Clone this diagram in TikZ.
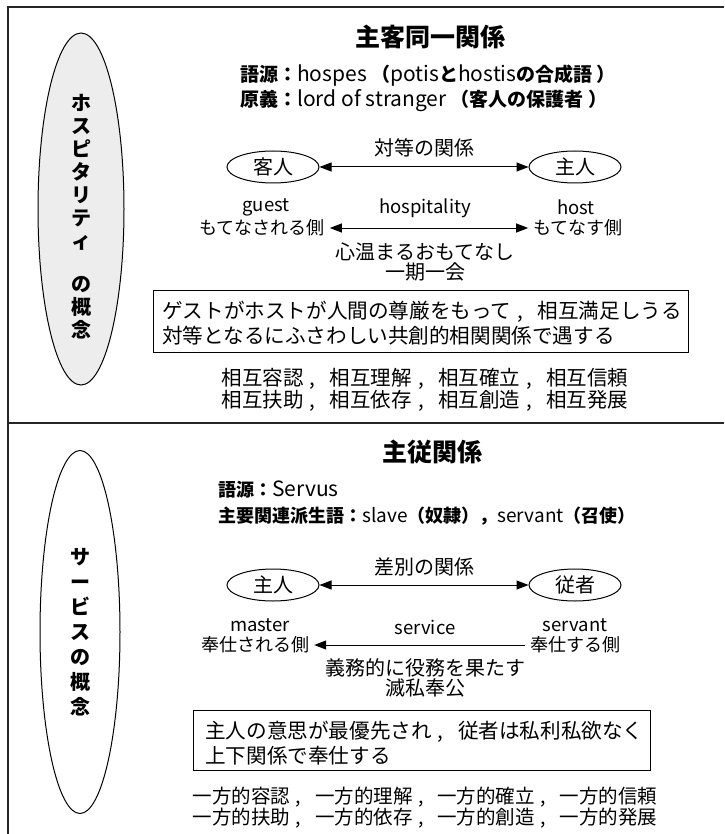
\documentclass[tikz,border=0pt]{standalone}
\usepackage{fontspec}
\setmainfont{Noto Sans CJK JP}
\usetikzlibrary{shapes.geometric,arrows.meta}
\newcommand\jcm{\hspace{0.3em},\hspace{0.7em}}
\newcommand\lt[1]{{\fontsize{21}{22}\selectfont\mdseries #1}}
\newcommand\ltb[1]{{\fontsize{19}{22}\selectfont\mdseries #1}}
\begin{document}
\begin{tikzpicture}[x=1pt,y=-1pt,
  frameline/.style={line width=2pt, draw=black!85},
  bigell/.style={ellipse, draw, line width=1pt, inner sep=0pt, minimum width=86pt},
  smallell/.style={ellipse, draw, line width=1pt, minimum width=92pt, minimum height=32pt, inner sep=0pt, font=\fontsize{20}{21}\selectfont},
  txt/.style={inner sep=0pt, font=\fontsize{20}{20.5}\selectfont, align=center},
  lab/.style={inner sep=0pt, font=\fontsize{18.5}{20}\selectfont, align=center},
  side/.style={inner ysep=0pt, inner xsep=5pt, font=\fontsize{18}{20}\selectfont},
  boxtxt/.style={inner sep=0pt, font=\fontsize{20.6}{24.5}\selectfont, align=left, anchor=west},
  hd/.style={inner sep=0pt, font=\fontsize{19}{20}\selectfont\bfseries, anchor=west},
  ttl/.style={inner sep=0pt, font=\fontsize{25}{26}\selectfont\bfseries},
  vtxt/.style={inner sep=0pt, align=center, font=\bfseries},
  tip/.tip={Triangle[length=12pt,width=9pt]},
  darr/.style={line width=1pt, tip-tip},
  sarr/.style={line width=1pt, tip-},
  framebox/.style={draw, line width=1pt, inner sep=0pt}
]
\useasboundingbox (0,0) rectangle (724,834);
\coordinate (tl) at (8,7);
\coordinate (tr) at (724,7);
\coordinate (bl) at (8,834);
\coordinate (ml) at (8,423);
\coordinate (mr) at (724,423);
\draw[frameline] (tr) -- (tl) -- (bl);
\draw[frameline] (ml) -- (mr);

% ---------- top section ----------
\node (e1) [bigell, minimum height=352pt, fill=black!7] at (81,209) {};
\node (v1) [vtxt, font=\fontsize{20}{23}\selectfont\bfseries] at (81,217) {ホ\\ス\\ピ\\タ\\リ\\テ\\ィ\\[20pt]の\\概\\念};

\node (t1) [ttl] at (430,37) {主客同一関係};
\node (h1) [hd] at (240,76) {語源：\lt{hospes} （\lt{potis}と\lt{hostis}の合成語 ）};
\node (h2) [hd] at (240,101) {原義：\lt{lord of stranger} （客人の保護者 ）};

\node (guestE) [smallell] at (273,167) {客人};
\node (hostE) [smallell] at (575,167) {主人};
\draw[darr] (guestE) -- (hostE);
\node (rel1) [txt] at (424,148) {対等の関係};

\node (guest) [lab] at (266,207) {guest};
\node (gside) [side] at (262,228) {もてなされる側};
\node (host) [lab] at (576,207) {host};
\node (hside) [side] at (578,228) {もてなす側};
\draw[darr] (gside) -- (hside);
\node (hosp) [lab] at (425,208) {hospitality};
\node (warm) [txt] at (425,262) {心温まるおもてなし\\一期一会};

\node (box1) [framebox, minimum width=535pt, minimum height=62pt] at (420.5,321) {};
\node (b1t) [boxtxt] at (162,323) {ゲストがホストが人間の尊厳をもって\jcm 相互満足しうる\\対等となるにふさわしい共創的相関関係で遇する};

\node (mut) [txt, font=\fontsize{20.5}{20.5}\selectfont] at (425,390) {相互容認\jcm 相互理解\jcm 相互確立\jcm 相互信頼\\相互扶助\jcm 相互依存\jcm 相互創造\jcm 相互発展};

% ---------- bottom section ----------
\node (e2) [bigell, minimum width=80pt, minimum height=363pt] at (80,632) {};
\node (v2) [vtxt, font=\fontsize{20}{25}\selectfont\bfseries] at (80,632) {サ\\ー\\ビ\\ス\\の\\概\\念};

\node (t2) [ttl] at (432,452) {主従関係};
\node (h3) [hd, font=\fontsize{18}{20}\selectfont\bfseries] at (218,490) {語源：\lt{Servus}};
\node (h4) [hd, font=\fontsize{18}{20}\selectfont\bfseries] at (218,516) {主要関連派生語：\ltb{slave}（奴隷），\ltb{servant}（召使）};

\node (masterE) [smallell] at (273,585) {主人};
\node (servE) [smallell] at (575,585) {従者};
\draw[darr] (masterE) -- (servE);
\node (rel2) [txt] at (424,567) {差別の関係};

\node (master) [lab] at (260,625) {master};
\node (mside) [side] at (255,645) {奉仕される側};
\node (servant) [lab] at (575,625) {servant};
\node (sside) [side] at (575,645) {奉仕する側};
\draw[sarr] (mside) -- (sside);
\node (serv) [lab] at (425,627) {service};
\node (duty) [txt] at (425,678) {義務的に役務を果たす\\滅私奉公};

\node (box2) [framebox, minimum width=457pt, minimum height=60pt] at (421.5,740) {};
\node (b2t) [boxtxt] at (205,743) {主人の意思が最優先され\jcm 従者は私利私欲なく\\上下関係で奉仕する};

\node (one) [txt, font=\fontsize{19.5}{21}\selectfont] at (425,808) {一方的容認\jcm 一方的理解\jcm 一方的確立\jcm 一方的信頼\\一方的扶助\jcm 一方的依存\jcm 一方的創造\jcm 一方的発展};
\end{tikzpicture}
\end{document}
